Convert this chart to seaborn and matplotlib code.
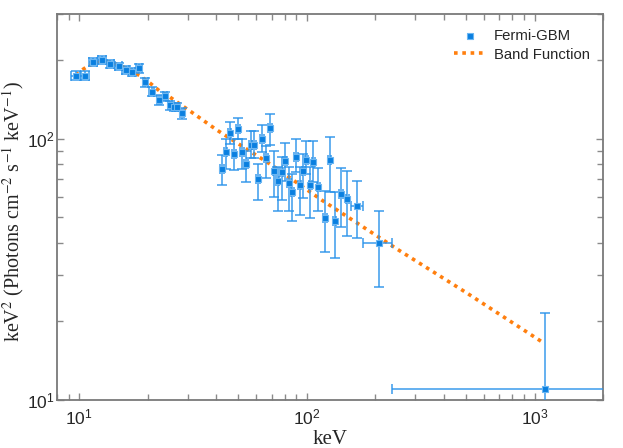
import numpy as np
import matplotlib
matplotlib.use("Agg")
import matplotlib.pyplot as plt
import seaborn as sns

# Fermi-GBM spectral points: energy (keV), keV^2 N(E), and the ends of the error bars
energy = [9.67, 10.6, 11.55, 12.6, 13.7, 14.9, 16.0, 17.1, 18.3, 19.5, 20.8, 22.4,
          23.8, 25.1, 26.0, 27.0, 28.3,
          42.3, 44.0, 45.8, 48.0, 50.0, 52.0, 54.2, 56.6, 58.7, 61.1, 63.6, 66.3,
          69.0, 71.9, 74.6, 77.5, 80.3, 83.6, 86.5, 89.7, 93.1, 96.3, 99.7, 103.4,
          107.0, 112.5, 120.3, 126.2, 132.7, 141.3, 150.8, 165.6, 207.5, 1117]
flux = [174, 174, 196, 200, 193, 189, 183, 180, 186, 164, 151, 141,
        145, 134, 132, 132, 125,
        76.6, 88.7, 104.8, 87.4, 108.9, 88.7, 80.1, 94.8, 94.8, 70.2, 99.8, 84.3,
        109.9, 75.5, 68.9, 74.3, 82.4, 67.5, 62.4, 84.8, 66.7, 75.5, 83.2, 66.2,
        81.2, 65.2, 49.8, 82.6, 48.6, 61.5, 58.9, 55.3, 40.0, 11.04]
energy_lo = [9.17, 10.1, 11.1, 12.1, 13.2, 14.4, 15.5, 16.6, 17.8, 19.0, 20.3, 21.9,
             23.3, 24.6, 25.5, 26.5, 27.7,
             41.5, 43.2, 45.0, 47.1, 49.1, 51.1, 53.2, 55.6, 57.7, 60.0, 62.5, 65.2,
             67.8, 70.7, 73.4, 76.2, 79.0, 82.2, 85.1, 88.3, 91.6, 94.8, 98.1, 101.8,
             105.3, 110.7, 118.4, 124.2, 130.6, 139.1, 148.5, 156.0, 176.6, 237.7]
energy_hi = [10.17, 11.1, 12.0, 13.1, 14.2, 15.4, 16.5, 17.6, 18.8, 20.0, 21.3, 22.9,
             24.3, 25.6, 26.5, 27.5, 28.9,
             43.1, 44.8, 46.6, 48.9, 50.9, 52.9, 55.2, 57.6, 59.7, 62.2, 64.7, 67.4,
             70.2, 73.1, 75.8, 78.8, 81.6, 85.0, 87.9, 91.1, 94.6, 97.8, 101.3, 105.0,
             108.7, 114.3, 122.2, 128.2, 134.8, 143.5, 153.1, 176.6, 237.7, 5000]
flux_lo = [167, 167, 189, 193, 187, 183, 177, 174, 179, 157, 145, 135,
           139, 129, 127, 127, 119,
           66.2, 76.6, 95.0, 76.1, 99.8, 76.6, 68.4, 84.0, 84.0, 58.0, 88.7, 71.0,
           94.8, 59.6, 53.0, 58.0, 69.0, 53.0, 48.3, 74.3, 51.0, 59.2, 73.3, 49.5,
           68.2, 52.7, 37.0, 62.4, 35.0, 45.9, 42.3, 41.8, 27.1, 5.0]
flux_hi = [181, 181, 203, 207, 199, 195, 189, 186, 193, 171, 157, 147,
           151, 139, 137, 137, 131,
           86.7, 99.8, 115.6, 99.8, 120.0, 99.8, 90.0, 107.0, 107.0, 80.0, 112.6, 94.0,
           124.0, 90.0, 77.6, 85.0, 95.9, 78.0, 73.3, 99.8, 77.6, 87.4, 98.3, 77.6,
           98.3, 77.4, 63.0, 101.6, 62.4, 77.0, 75.5, 68.7, 52.8, 21.6]

# Band function model curve
band_energy = [9.7, 10.4, 11.0, 12.0, 13.0, 14.0, 15.0, 16.5, 18.5, 20.5, 22.6,
               25.1, 27.9, 30.9, 40.2, 69.5, 116, 254, 500, 1107]
band_flux = [175, 184, 190, 196, 197, 195, 191, 184, 174, 163, 152,
             144, 135, 127, 108, 79.6, 58.3, 37.4, 25.8, 16.45]

sns.set_style("ticks")
plt.rcParams['font.family'] = ['Liberation Sans', 'DejaVu Sans']
plt.rcParams['mathtext.fontset'] = 'custom'
plt.rcParams['mathtext.rm'] = 'Liberation Sans'

fig = plt.figure(figsize=(6.23, 4.48), dpi=100)
ax = fig.add_axes([0.0915, 0.107, 0.8765, 0.862])
ax.set_xscale('log')
ax.set_yscale('log')

# model curve
sns.lineplot(x=band_energy, y=band_flux, ax=ax, color='#ff7f0e', linestyle=(0, (1.0, 1.3)),
             linewidth=2.6, label='Band Function', zorder=2)

# error bars
e = np.array(energy)
f = np.array(flux)
xerr = [e - np.array(energy_lo), np.array(energy_hi) - e]
yerr = [f - np.array(flux_lo), np.array(flux_hi) - f]
ax.errorbar(e, f, xerr=xerr, yerr=yerr, fmt='none', ecolor='#2a93ea', elinewidth=1.2,
            capsize=3.5, capthick=1.2, alpha=0.85, zorder=3)

sns.scatterplot(x=energy, y=flux, ax=ax, marker='s', s=24, color='#0a7fe0',
                edgecolor='#6bb6f2', linewidth=0.8, label='Fermi-GBM', zorder=4)

ax.set_xlim(8, 2000)
ax.set_ylim(10, 300)

for sp in ax.spines.values():
    sp.set_color('#7a7a7a')
    sp.set_linewidth(1.3)
ax.tick_params(which='both', direction='in', top=True, right=True, color='#8a8a8a',
               labelsize=12.5)
ax.tick_params(axis='y', pad=2)
ax.tick_params(axis='x', pad=5)
ax.tick_params(which='major', length=5, width=1)
ax.tick_params(which='minor', length=4, width=1)

xl = ax.set_xlabel('keV', fontsize=15, family='Liberation Serif', va='top')
yl = ax.set_ylabel(r'keV$^2$ (Photons cm$^{-2}$ s$^{-1}$ keV$^{-1}$)', fontsize=14.5,
                   family='Liberation Serif')
xl.set_math_fontfamily('stix')
yl.set_math_fontfamily('stix')
ax.xaxis.set_label_coords(0.5, -0.078)
ax.yaxis.set_label_coords(-0.056, 0.487)

h, l = ax.get_legend_handles_labels()
order = [l.index('Fermi-GBM'), l.index('Band Function')]
ax.legend([h[i] for i in order], [l[i] for i in order], loc='upper right',
          bbox_to_anchor=(1.0, 0.995), frameon=False, fontsize=10.7, handlelength=2.2,
          handletextpad=0.5, labelspacing=0.3)

fig.savefig('out.png', dpi=100)
